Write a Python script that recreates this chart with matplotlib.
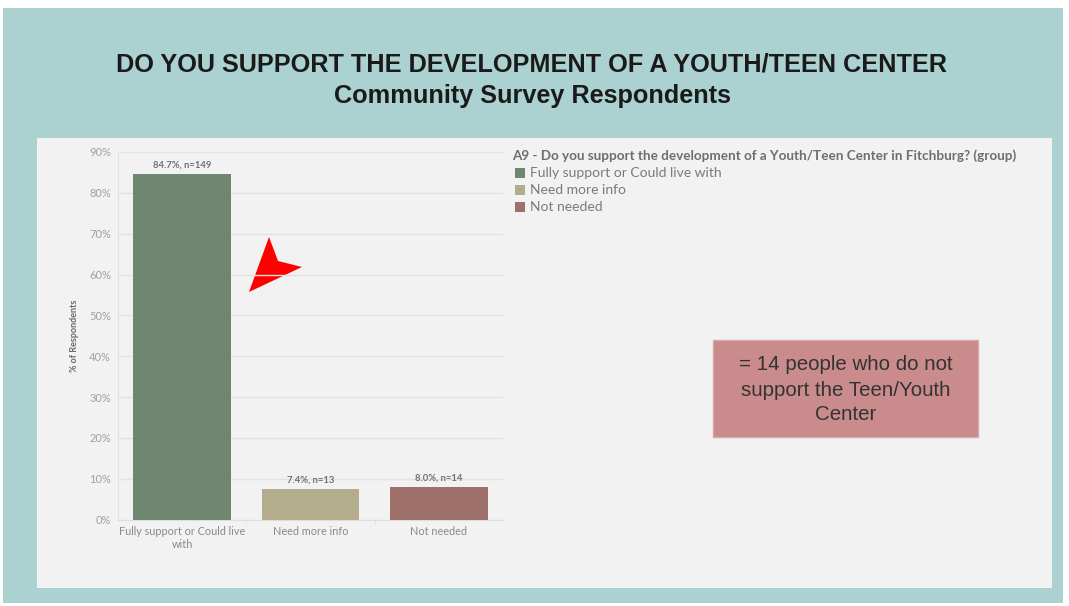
import matplotlib
matplotlib.use("Agg")
import matplotlib.pyplot as plt
from matplotlib.patches import Rectangle, Polygon

categories = ["Fully support or Could live\nwith", "Need more info", "Not needed"]
legend_labels = ["Fully support or Could live with", "Need more info", "Not needed"]
values = [84.7, 7.4, 8.0]
counts = [149, 13, 14]
yticks = [0, 10, 20, 30, 40, 50, 60, 70, 80, 90]
colors = ["#6f8670", "#b4ad8d", "#9f706a"]

W, H = 1069, 606
fig = plt.figure(figsize=(W / 100, H / 100), dpi=100)
fig.patch.set_facecolor("white")

def px(x0, y0, x1, y1):
    return [x0 / W, 1 - y1 / H, (x1 - x0) / W, (y1 - y0) / H]

# backgrounds
bg = fig.add_axes([0, 0, 1, 1], zorder=-10)
bg.set_xlim(0, W); bg.set_ylim(H, 0); bg.axis("off")
bg.add_patch(Rectangle((3, 8), 1060, 595, facecolor="#abd1d1", edgecolor="none"))
bg.add_patch(Rectangle((37, 138), 1015, 450, facecolor="#f2f2f2", edgecolor="none"))

# titles
fig.text(532 / W, 1 - 65 / H, "DO YOU SUPPORT THE DEVELOPMENT OF A YOUTH/TEEN CENTER",
         ha="center", va="center", fontsize=18.2, fontweight="bold",
         family="Liberation Sans", color="#1a1a1a")
fig.text(532 / W, 1 - 96 / H, "Community Survey Respondents",
         ha="center", va="center", fontsize=18.2, fontweight="bold",
         family="Liberation Sans", color="#1a1a1a")

# main chart
ax = fig.add_axes(px(118, 152, 503, 519.5))
ax.set_facecolor("none")
x = list(range(len(categories)))
ax.bar(x, values, width=0.76, color=colors, zorder=3)
ax.set_xlim(-0.5, 2.5)
ax.set_ylim(0, 90)
ax.set_yticks(yticks)
ax.set_yticklabels([f"{t}%" for t in yticks], family="Lato", fontsize=8, color="#a0a0a0")
ax.set_xticks(x)
ax.set_xticklabels(categories, family="Lato", fontsize=7.8, color="#8a8a8a", linespacing=1.15)
ax.set_xticks([0.5, 1.5], minor=True)
ax.tick_params(axis="x", which="major", length=0, pad=5)
ax.tick_params(axis="x", which="minor", length=3, color="#dddddd")
ax.tick_params(axis="y", length=0, pad=5)
ax.grid(axis="y", color="#e2e2e2", linewidth=1, zorder=0)
for s in ["top", "right"]:
    ax.spines[s].set_visible(False)
ax.spines["left"].set_color("#e2e2e2")
ax.spines["bottom"].set_color("#dddddd")
ax.set_ylabel("% of Respondents", family="Lato", fontsize=6.5, fontweight="bold",
              color="#6a6a6a", labelpad=7)
for xi, v, n in zip(x, values, counts):
    ax.annotate(f"{v:.1f}%, n={n}", (xi, v), xytext=(0, 3), textcoords="offset points",
                ha="center", va="bottom", family="Lato", fontsize=6.8,
                fontweight="bold", color="#707070")

# legend
fig.text(512 / W, 1 - 156 / H,
         "A9 - Do you support the development of a Youth/Teen Center in Fitchburg? (group)",
         ha="left", va="center", family="Lato", fontsize=9.7, fontweight="bold", color="#6e6e6e")
for i, (lab, c) in enumerate(zip(legend_labels, colors)):
    yy = 173 + i * 16.8
    bg.add_patch(Rectangle((515, yy - 5), 10, 10, facecolor=c, edgecolor="none"))
    bg.text(530, yy, lab, ha="left", va="center", family="Lato", fontsize=10, color="#7a7a7a")

# annotation box
bg.add_patch(Rectangle((713, 340), 265, 97, facecolor="#c98b8b", edgecolor="#d9a8a8", linewidth=1))
bg.text(846, 390, "= 14 people who do not\nsupport the Teen/Youth\nCenter",
        ha="center", va="center", family="Liberation Sans", fontsize=14.8, color="#333333",
        linespacing=1.4)

# red arrowhead
bg.add_patch(Polygon([(249, 292), (269, 237), (278, 261), (302, 267)], closed=True,
                     facecolor="#ff0000", edgecolor="none"))

fig.savefig("out.png", dpi=100, facecolor=fig.get_facecolor())
